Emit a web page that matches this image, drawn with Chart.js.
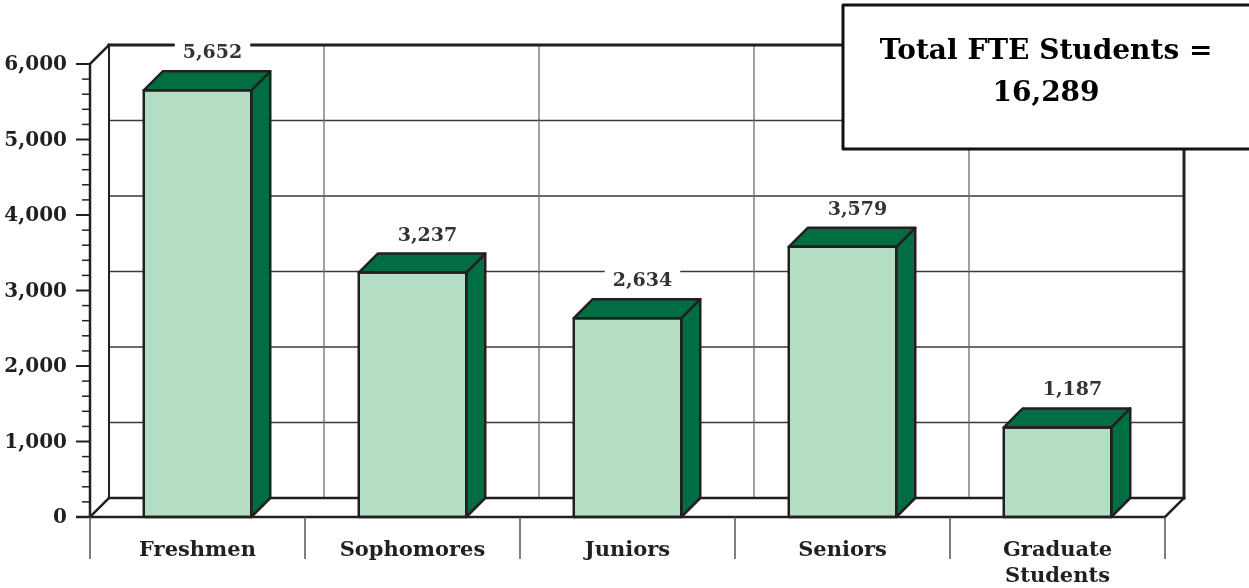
<!DOCTYPE html>
<html><head><meta charset="utf-8">
<script src="https://cdn.jsdelivr.net/npm/chart.js@4/dist/chart.umd.min.js"></script>
<style>html,body{margin:0;padding:0;background:#fff;}#wrap{width:1249px;height:588px;position:relative;}</style>
</head><body><div id="wrap"><canvas id="c"></canvas></div>
<script>
const categories = [['Freshmen'], ['Sophomores'], ['Juniors'], ['Seniors'], ['Graduate', 'Students']];
const students = [5652, 3237, 2634, 3579, 1187];
const yTicks = [0, 1000, 2000, 3000, 4000, 5000, 6000];
const totalText = ['Total FTE Students =', '16,289'];

const DEPTH = 19;
const LIGHT = '#b3dec3';
const DARK = '#006e42';
const INK = '#231f20';
const VFONT = 'bold 19px "DejaVu Serif", serif';
const TFONT = 'bold 20px "DejaVu Serif", serif';
const CFONT = 'bold 21px "DejaVu Serif", serif';

function fmt(v){ return v.toLocaleString('en-US'); }

function line(ctx, x1, y1, x2, y2, w, c){
  ctx.beginPath(); ctx.moveTo(x1, y1); ctx.lineTo(x2, y2);
  ctx.lineWidth = w; ctx.strokeStyle = c; ctx.stroke();
}

const wallPlugin = {
  id: 'wall3d',
  beforeDatasetsDraw(chart){
    const ctx = chart.ctx, x = chart.scales.x, y = chart.scales.y;
    const L = x.left, R = x.right, T = y.getPixelForValue(yTicks[yTicks.length-1]), B = y.getPixelForValue(0);
    const d = DEPTH;
    ctx.save();
    ctx.lineCap = 'square';
    yTicks.forEach(v => { if (v > 0 && v < yTicks[yTicks.length-1]) line(ctx, L + d, y.getPixelForValue(v) - d, R + d, y.getPixelForValue(v) - d, 1.3, '#3a3a3a'); });
    const n = categories.length, cw = (R - L) / n;
    for (let i = 1; i < n; i++) line(ctx, L + i*cw + d, T - d, L + i*cw + d, B - d, 1.3, '#6d6d6d');
    line(ctx, L + d, T - d, L + d, B - d, 2, INK);
    line(ctx, L + d, T - d, R + d, T - d, 3, INK);
    line(ctx, R + d, T - d, R + d, B - d, 3, INK);
    line(ctx, L + d, B - d, R + d, B - d, 2.5, INK);
    line(ctx, L, B, L + d, B - d, 2.5, INK);
    line(ctx, R, B, R + d, B - d, 2.5, INK);
    line(ctx, L, T, L + d, T - d, 2.5, INK);
    ctx.restore();
  },
  afterDatasetsDraw(chart){
    const ctx = chart.ctx, x = chart.scales.x, y = chart.scales.y;
    const L = x.left, R = x.right, T = y.getPixelForValue(yTicks[yTicks.length-1]), B = y.getPixelForValue(0);
    const d = DEPTH;
    const meta = chart.getDatasetMeta(0);
    ctx.save();
    ctx.lineJoin = 'round';
    ctx.lineWidth = 2.5; ctx.strokeStyle = INK;
    meta.data.forEach((bar, i) => {
      const xl = bar.x - bar.width/2, xr = bar.x + bar.width/2, yt = bar.y, yb = bar.base;
      ctx.beginPath(); ctx.moveTo(xr, yt); ctx.lineTo(xr + d, yt - d); ctx.lineTo(xr + d, yb - d); ctx.lineTo(xr, yb); ctx.closePath();
      ctx.fillStyle = DARK; ctx.fill(); ctx.stroke();
      ctx.beginPath(); ctx.moveTo(xl, yt); ctx.lineTo(xl + d, yt - d); ctx.lineTo(xr + d, yt - d); ctx.lineTo(xr, yt); ctx.closePath();
      ctx.fillStyle = DARK; ctx.fill(); ctx.stroke();
      ctx.strokeRect(xl, yt, xr - xl, yb - yt);
    });
    ctx.font = VFONT; ctx.textAlign = 'center'; ctx.textBaseline = 'middle';
    meta.data.forEach((bar, i) => {
      const t = fmt(students[i]);
      const cx = bar.x + 15, cy = bar.y - d - 18;
      const w = ctx.measureText(t).width;
      ctx.fillStyle = '#fff'; ctx.fillRect(cx - w/2 - 8, cy - 12, w + 16, 22);
      ctx.fillStyle = '#333'; ctx.fillText(t, cx, cy);
    });
    line(ctx, L - 14, B, R, B, 2.5, INK);
    line(ctx, L, T, L, B, 2.5, INK);
    const top = yTicks[yTicks.length-1];
    for (let v = 0; v <= top; v += 200) {
      const py = y.getPixelForValue(v);
      const major = yTicks.includes(v);
      line(ctx, L - (major ? 14 : 8), py, L, py, major ? 2 : 1.5, INK);
    }
    ctx.font = TFONT; ctx.textAlign = 'right'; ctx.textBaseline = 'middle'; ctx.fillStyle = INK;
    yTicks.forEach(v => ctx.fillText(fmt(v), L - 23, y.getPixelForValue(v) + 1));
    const n = categories.length, cw = (R - L) / n;
    for (let i = 0; i <= n; i++) line(ctx, L + i*cw, B, L + i*cw, B + 42, 1.5, '#555');
    ctx.textAlign = 'center'; ctx.font = CFONT;
    categories.forEach((c, i) => {
      const cx = x.getPixelForValue(i);
      c.forEach((s, k) => ctx.fillText(s, cx, B + 34 + k*26));
    });
    ctx.fillStyle = '#fff'; ctx.fillRect(843, 5, 420, 144);
    ctx.lineWidth = 3; ctx.strokeStyle = '#111'; ctx.strokeRect(843, 5, 420, 144);
    ctx.fillStyle = '#000'; ctx.font = 'bold 28px "DejaVu Serif", serif';
    ctx.fillText(totalText[0], 1046, 52);
    ctx.fillText(totalText[1], 1046, 94);
    ctx.restore();
  }
};

new Chart(document.getElementById('c'), {
  type: 'bar',
  data: {
    labels: categories,
    datasets: [{ data: students, backgroundColor: LIGHT, borderWidth: 0, categoryPercentage: 1, barPercentage: 0.5 }]
  },
  options: {
    responsive: true, maintainAspectRatio: false, animation: false,
    devicePixelRatio: 1,
    layout: { padding: { left: 90, right: 84, top: 64, bottom: 71 } },
    plugins: { legend: { display: false }, tooltip: { enabled: false } },
    scales: {
      x: { display: false },
      y: { display: false, min: 0, max: 6000 }
    }
  },
  plugins: [wallPlugin]
});
</script></body></html>
